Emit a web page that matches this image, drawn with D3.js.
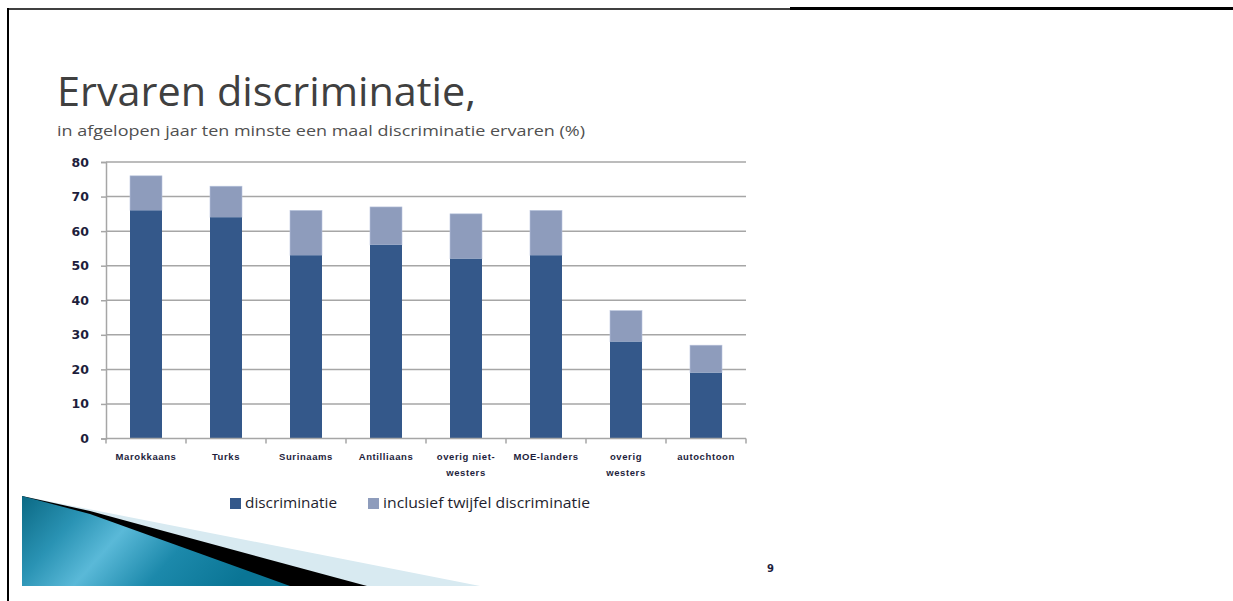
<!DOCTYPE html>
<html><head><meta charset="utf-8">
<script src="https://cdn.jsdelivr.net/npm/d3@7"></script>
<style>html,body{margin:0;padding:0;background:#fff;}svg{display:block;}</style>
</head><body>
<svg id="c" width="1233" height="601"></svg>
<script>
const categories = ["Marokkaans","Turks","Surinaams","Antilliaans","overig niet-westers","MOE-landers","overig westers","autochtoon"];
const categoryLines = [["Marokkaans"],["Turks"],["Surinaams"],["Antilliaans"],["overig niet-","westers"],["MOE-landers"],["overig","westers"],["autochtoon"]];
const discriminatie = [66,64,53,56,52,53,28,19];
const inclusiefTwijfel = [76,73,66,67,65,66,37,27];
const yTicks = [0,10,20,30,40,50,60,70,80];
const seriesNames = ["discriminatie","inclusief twijfel discriminatie"];
const titleText = "Ervaren discriminatie,";
const subtitleText = "in afgelopen jaar ten minste een maal discriminatie ervaren (%)";

const svg = d3.select("#c");
const darkC = "#34588a", lightC = "#8e9cbc";

// frame
svg.append("line").attr("x1",7).attr("x2",790).attr("y1",9).attr("y2",9).attr("stroke","#000").attr("stroke-width",1.5);
svg.append("line").attr("x1",790).attr("x2",1233).attr("y1",8.5).attr("y2",8.5).attr("stroke","#000").attr("stroke-width",3);
svg.append("line").attr("x1",8).attr("x2",8).attr("y1",8).attr("y2",601).attr("stroke","#000").attr("stroke-width",2);

// decoration
const defs = svg.append("defs");
const g1 = defs.append("linearGradient").attr("id","teal").attr("x1","0").attr("y1","0").attr("x2","1").attr("y2","0.3");
[[0,"#0b6984"],[0.25,"#2a93b4"],[0.45,"#5ab9d8"],[0.7,"#1c89ab"],[1,"#0a7595"]].forEach(s=>g1.append("stop").attr("offset",s[0]).attr("stop-color",s[1]));
svg.append("polygon").attr("points","22,496 480,586 22,586").attr("fill","#d8eaf1");
svg.append("polygon").attr("points","22,496 90,511 367,586 22,586").attr("fill","#000");
svg.append("polygon").attr("points","22,496 90,514 290,586 22,586").attr("fill","url(#teal)");

// titles
svg.append("text").attr("x",57).attr("y",106).attr("font-family","Open Sans").attr("font-size",41).attr("fill","#404040")
  .attr("textLength",419).attr("lengthAdjust","spacingAndGlyphs").text(titleText);
svg.append("text").attr("x",57).attr("y",136).attr("font-family","Open Sans").attr("font-size",15).attr("fill","#505050")
  .attr("textLength",528).attr("lengthAdjust","spacingAndGlyphs").text(subtitleText);

// chart
const x = d3.scaleBand().domain(categories).range([106,746]).paddingInner(0.6).paddingOuter(0.3);
const y = d3.scaleLinear().domain([0,80]).range([438.5,162]);

const grid = svg.append("g");
grid.selectAll("line").data(yTicks.filter(t=>t>0)).join("line")
  .attr("x1",106).attr("x2",746).attr("y1",d=>y(d)).attr("y2",d=>y(d)).attr("stroke","#a6a6a6").attr("stroke-width",1.5);

const bars = svg.append("g");
bars.selectAll("rect.l").data(categories).join("rect").attr("class","l")
  .attr("x",d=>x(d)).attr("width",x.bandwidth())
  .attr("y",(d,i)=>y(inclusiefTwijfel[i])).attr("height",(d,i)=>y(discriminatie[i])-y(inclusiefTwijfel[i]))
  .attr("fill",lightC).attr("stroke","#b8c4dc").attr("stroke-width",0.6);
bars.selectAll("rect.d").data(categories).join("rect").attr("class","d")
  .attr("x",d=>x(d)).attr("width",x.bandwidth())
  .attr("y",(d,i)=>y(discriminatie[i])).attr("height",(d,i)=>y(0)-y(discriminatie[i]))
  .attr("fill",darkC);

// y axis
const ya = svg.append("g").attr("transform","translate(106,0)")
  .call(d3.axisLeft(y).tickValues(yTicks).tickSize(5).tickPadding(12));
ya.select(".domain").attr("stroke","#a6a6a6").attr("stroke-width",1.5);
ya.selectAll(".tick line").attr("stroke","#a6a6a6").attr("stroke-width",1.5);
ya.selectAll(".tick text").attr("font-family","DejaVu Sans").attr("font-weight","bold").attr("font-size",12.5).attr("fill","#1e1e3c");

// x axis
const xa = svg.append("g").attr("transform",`translate(0,${y(0)})`);
xa.append("line").attr("x1",106).attr("x2",746).attr("stroke","#a6a6a6").attr("stroke-width",1.5);
const bounds = categories.map(c=>x(c)-x.step()*x.paddingInner()/2).concat([746]);
xa.selectAll("line.t").data(bounds).join("line").attr("class","t")
  .attr("x1",d=>d).attr("x2",d=>d).attr("y1",0).attr("y2",5).attr("stroke","#a6a6a6").attr("stroke-width",1.5);
const lab = xa.selectAll("text.c").data(categories).join("text").attr("class","c")
  .attr("x",d=>x(d)+x.bandwidth()/2).attr("y",21).attr("text-anchor","middle")
  .attr("font-family","Liberation Sans").attr("font-weight","bold").attr("font-size",9.5).attr("letter-spacing",0.6).attr("fill","#1e1e3c");
lab.each(function(d,i){
  const t = d3.select(this);
  categoryLines[i].forEach((ln,j)=>t.append("tspan").attr("x",x(d)+x.bandwidth()/2).attr("dy",j?16:0).text(ln));
});

// legend
const leg = svg.append("g");
const legItems = [{c:darkC,x:230,tx:245,w:92},{c:lightC,x:368,tx:383,w:207}];
legItems.forEach((it,i)=>{
  leg.append("rect").attr("x",it.x).attr("y",498).attr("width",11).attr("height",11).attr("fill",it.c);
  leg.append("text").attr("x",it.tx).attr("y",508).attr("font-family","Open Sans").attr("font-size",14).attr("fill","#1e1e2e")
    .attr("textLength",it.w).attr("lengthAdjust","spacingAndGlyphs").text(seriesNames[i]);
});

svg.append("text").attr("x",767).attr("y",572).attr("font-family","DejaVu Sans").attr("font-weight","bold").attr("font-size",10).attr("fill","#1e1e3c").text("9");
</script>
</body></html>
